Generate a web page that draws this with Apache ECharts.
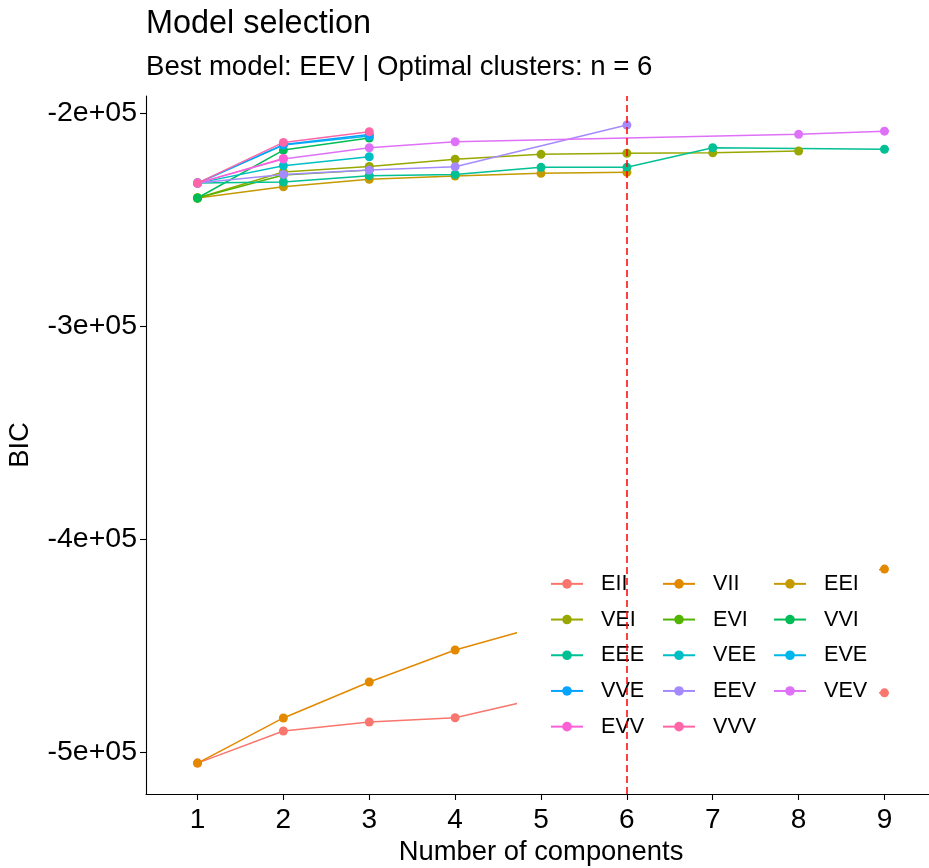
<!DOCTYPE html>
<html>
<head>
<meta charset="utf-8">
<title>Model selection</title>
<script src="https://cdn.jsdelivr.net/npm/echarts@6/dist/echarts.min.js"></script>
<style>
  html, body { margin: 0; padding: 0; background: #ffffff; }
  #chart { width: 929px; height: 868px; }
</style>
</head>
<body>
<div id="chart"></div>
<script>
// Number of mixture components on the x axis
const components = [1, 2, 3, 4, 5, 6, 7, 8, 9];

// BIC per covariance model (null = model not fitted for that component count)
const EII = [-505200, -490100, -485900, -483900, -474600, -473700, -473200, -472800, -472200];
const VII = [-505200, -484000, -467100, -452100, -440800, -432400, -424900, -419200, -414100];
const EEI = [-239900, -234600, -231100, -229600, -228300, -227800, null, null, null];
const VEI = [-239900, -227700, -225100, -221700, -219400, -218900, -218700, -217800, null];
const EVI = [-239900, -229100, -226800, null, null, null, null, null, null];
const VVI = [-239900, -217400, -211700, null, null, null, null, null, null];
const EEE = [-232900, -232400, -229400, -228800, -225500, -225500, -216300, null, -217000];
const VEE = [-232900, -224700, -220500, null, null, null, null, null, null];
const EVE = [-232900, -215000, -210800, null, null, null, null, null, null];
const VVE = [-232900, -214800, -210100, null, null, null, null, null, null];
const EEV = [-232900, -228800, -226800, -225200, null, -205600, null, null, null];
const VEV = [-232900, -221600, -216300, -213500, null, null, null, -210000, -208500];
const EVV = [-232900, -221300, null, null, null, null, null, null, null];
const VVV = [-232900, -213800, -208800, null, null, null, null, null, null];

const modelNames = ['EII', 'VII', 'EEI', 'VEI', 'EVI', 'VVI', 'EEE', 'VEE', 'EVE', 'VVE', 'EEV', 'VEV', 'EVV', 'VVV'];
const modelValues = [EII, VII, EEI, VEI, EVI, VVI, EEE, VEE, EVE, VVE, EEV, VEV, EVV, VVV];

// Y axis tick positions and the optimal number of clusters
const bicTicks = [-500000, -400000, -300000, -200000];
const bestClusters = 6;

const palette = ['#F8766D', '#E38900', '#C49A00', '#99A800', '#53B400', '#00BC56', '#00C094',
                 '#00BFC4', '#00B6EB', '#06A4FF', '#A58AFF', '#DF70F8', '#FB61D7', '#FF66A8'];

const FONT = '"Liberation Sans", Arial, sans-serif';

const series = modelNames.map((name, k) => {
  const s = {
    name: name,
    type: 'line',
    data: components.map((c, i) => [c, modelValues[k][i]]),
    connectNulls: true,
    symbol: 'circle',
    symbolSize: 9,
    showSymbol: true,
    lineStyle: { width: 1.5, color: palette[k] },
    itemStyle: { color: palette[k] },
    emphasis: { disabled: true },
    z: 2
  };
  if (k === modelNames.length - 1) {
    s.markLine = {
      silent: true,
      symbol: ['none', 'none'],
      label: { show: false },
      lineStyle: { color: '#FF0000', type: [7, 4], width: 1.5 },
      data: [{ xAxis: bestClusters }]
    };
  }
  return s;
});

// Legend laid out in three columns, filled row by row
const legendCols = [[], [], []];
modelNames.forEach((n, i) => legendCols[i % 3].push(n));
const legendLefts = [550, 662, 773];
const legends = legendCols.map((names, c) => ({
  data: names,
  orient: 'vertical',
  left: legendLefts[c],
  top: 566,
  padding: 0,
  itemGap: 0,
  itemWidth: 32,
  itemHeight: 12,
  selectedMode: false,
  z: 5,
  formatter: n => '{g|}' + n,
  textStyle: {
    fontFamily: FONT,
    fontSize: 21.6,
    color: '#000',
    lineHeight: 35.7,
    rich: { g: { width: 13 } }
  }
}));

const chart = echarts.init(document.getElementById('chart'), null, { renderer: 'canvas' });
chart.setOption({
  animation: false,
  backgroundColor: '#ffffff',
  color: palette,
  title: [
    { text: 'Model selection', left: 146, top: 8, padding: 0,
      textStyle: { fontFamily: FONT, fontSize: 32.4, fontWeight: 'normal', color: '#000' } },
    { text: 'Best model: EEV | Optimal clusters: n = 6', left: 146, top: 53, padding: 0,
      textStyle: { fontFamily: FONT, fontSize: 27.6, fontWeight: 'normal', color: '#000' } }
  ],
  grid: { left: 146, top: 96, width: 790, height: 698, containLabel: false, outerBoundsMode: 'none' },
  xAxis: {
    type: 'value',
    min: 0.4,
    max: 9.6,
    name: 'Number of components',
    nameLocation: 'middle',
    nameGap: 44,
    nameTextStyle: { fontFamily: FONT, fontSize: 27.4, color: '#000' },
    axisLine: { lineStyle: { color: '#000', width: 1.1 } },
    axisTick: { show: true, length: 6, customValues: components, lineStyle: { color: '#000', width: 1.1 } },
    axisLabel: { customValues: components, margin: 12, fontFamily: FONT, fontSize: 28, color: '#000' },
    splitLine: { show: false }
  },
  yAxis: {
    type: 'value',
    min: -519700,
    max: -192000,
    name: 'BIC',
    nameLocation: 'middle',
    nameRotate: 90,
    nameGap: 112,
    nameTextStyle: { fontFamily: FONT, fontSize: 27.4, color: '#000' },
    axisLine: { show: true, lineStyle: { color: '#000', width: 1.1 } },
    axisTick: { show: true, length: 6, customValues: bicTicks, lineStyle: { color: '#000', width: 1.1 } },
    axisLabel: {
      customValues: bicTicks, margin: 9, fontFamily: FONT, fontSize: 28.5, color: '#000',
      formatter: v => (v / 100000) + 'e+05'
    },
    splitLine: { show: false }
  },
  legend: legends,
  graphic: [{
    type: 'rect',
    left: 517,
    top: 561,
    z: 3,
    silent: true,
    shape: { width: 362, height: 185 },
    style: { fill: '#ffffff' }
  }],
  series: series
});
</script>
</body>
</html>
